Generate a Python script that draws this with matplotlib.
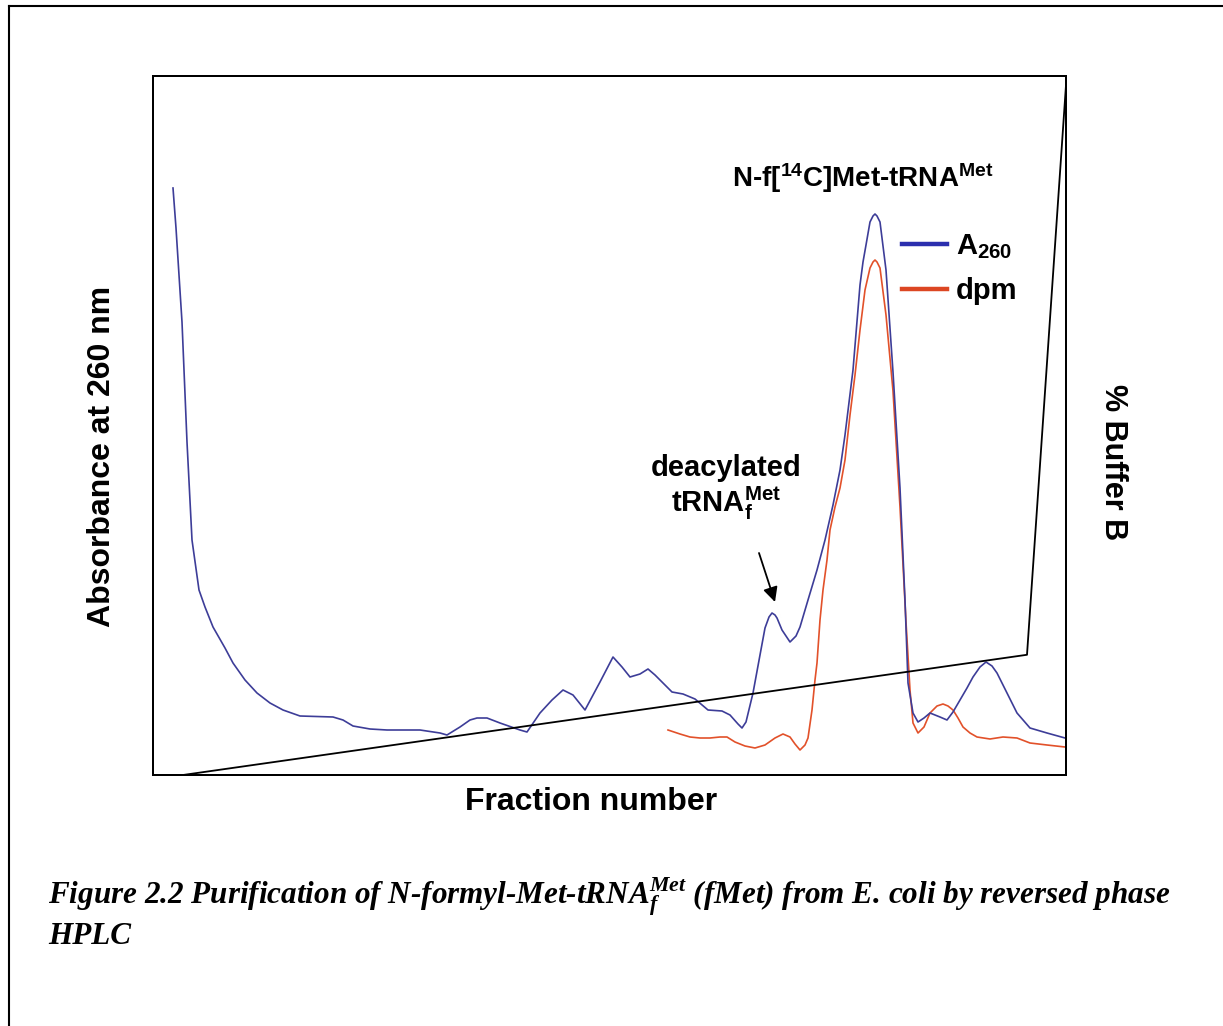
import matplotlib as mpl
import matplotlib.pyplot as plt
from matplotlib.lines import Line2D

mpl.rcParams.update(
    {
        "font.family": ["Liberation Sans", "DejaVu Sans"],
        "font.weight": "bold",
        "mathtext.default": "regular",
        "axes.linewidth": 1.4,
    }
)

# A260 trace (fraction number, absorbance)
a260_fraction = [
    2.0, 2.3, 2.9, 3.4, 3.9, 4.6, 5.2, 6.0, 7.2, 8.0, 9.2, 10.4, 11.7, 13.0, 14.7,
    18.0, 19.0, 20.0, 21.7, 23.4, 26.7, 28.7, 29.4, 30.7, 31.7, 32.4, 33.4, 34.7,
    36.7, 37.4, 38.7, 39.9, 41.0, 42.0, 43.2, 44.7, 46.0, 46.9, 47.7, 48.7, 49.5,
    50.2, 51.2, 51.9, 53.0, 54.2, 55.5, 56.9, 57.7, 58.5, 58.9, 59.3, 60.0, 60.7,
    61.2, 61.6, 61.9, 62.2, 62.4, 62.9, 63.7, 64.3, 64.7, 65.5, 66.4, 67.2, 68.0,
    68.7, 69.2, 70.0, 70.7, 71.0, 71.3, 71.7, 72.0, 72.2, 72.4, 72.7, 73.3, 74.0,
    74.7, 75.2, 75.5, 76.0, 76.5, 77.1, 77.7, 78.7, 79.4, 80.0, 80.7, 81.4, 82.0,
    82.7, 83.3, 83.9, 84.4, 85.4, 86.4, 87.7, 89.4, 91.2,
]
a260_value = [
    0.587, 0.547, 0.453, 0.333, 0.235, 0.185, 0.168, 0.148, 0.127, 0.112, 0.095,
    0.082, 0.072, 0.065, 0.059, 0.058, 0.055, 0.049, 0.046, 0.045, 0.045, 0.042,
    0.040, 0.048, 0.055, 0.057, 0.057, 0.052, 0.045, 0.043, 0.062, 0.075, 0.085,
    0.080, 0.065, 0.093, 0.118, 0.108, 0.098, 0.101, 0.106, 0.100, 0.090, 0.083,
    0.081, 0.076, 0.065, 0.064, 0.060, 0.051, 0.047, 0.053, 0.082, 0.120, 0.147,
    0.158, 0.162, 0.160, 0.157, 0.145, 0.133, 0.139, 0.148, 0.175, 0.205, 0.235,
    0.270, 0.305, 0.340, 0.405, 0.490, 0.513, 0.530, 0.553, 0.559, 0.561, 0.559,
    0.553, 0.505, 0.403, 0.287, 0.175, 0.092, 0.062, 0.053, 0.057, 0.062, 0.058,
    0.055, 0.063, 0.075, 0.087, 0.098, 0.108, 0.113, 0.109, 0.102, 0.082, 0.062,
    0.047, 0.042, 0.037,
]

# radioactivity trace (dpm), same axis scale
dpm_fraction = [
    51.5, 52.7, 53.7, 54.7, 55.7, 56.7, 57.4, 58.2, 59.2, 60.2, 61.2, 62.2, 63.0,
    63.7, 64.2, 64.7, 65.2, 65.5, 65.9, 66.2, 66.4, 66.7, 67.0, 67.4, 67.7, 68.2,
    68.7, 69.2, 69.7, 70.2, 70.7, 71.2, 71.7, 72.0, 72.2, 72.4, 72.7, 73.3, 74.0,
    74.7, 75.3, 75.7, 76.0, 76.5, 77.1, 77.7, 78.4, 79.0, 79.5, 80.0, 80.5, 81.0,
    81.7, 82.4, 83.7, 85.0, 86.4, 87.7, 89.4, 91.2,
]
dpm_value = [
    0.045, 0.041, 0.038, 0.037, 0.037, 0.038, 0.038, 0.033, 0.029, 0.027, 0.030,
    0.037, 0.041, 0.038, 0.031, 0.025, 0.030, 0.037, 0.065, 0.095, 0.112, 0.155,
    0.185, 0.215, 0.245, 0.268, 0.287, 0.315, 0.360, 0.400, 0.445, 0.485, 0.507,
    0.513, 0.515, 0.513, 0.507, 0.460, 0.384, 0.268, 0.153, 0.085, 0.052, 0.042,
    0.048, 0.062, 0.069, 0.071, 0.069, 0.065, 0.057, 0.048, 0.042, 0.038, 0.036,
    0.038, 0.037, 0.032, 0.030, 0.028,
]

# gradient programme (% buffer B)
gradient_fraction = [3.0, 87.4, 91.3]
gradient_buffer_b = [0.0, 17.2, 98.7]

BLUE = "#3d3d98"
RED = "#e2512a"

fig = plt.figure(figsize=(12.23, 10.26), dpi=100)
ax = fig.add_axes([153 / 1223, 1 - 775 / 1026, 913 / 1223, 699 / 1026])
ax.plot(a260_fraction, a260_value, color=BLUE, linewidth=1.2, zorder=3)
ax.plot(dpm_fraction, dpm_value, color=RED, linewidth=1.2, zorder=2)
ax.set_xlim(0, 91.3)
ax.set_ylim(0, 0.699)
ax.set_xticks([])
ax.set_yticks([])

ax2 = ax.twinx()
ax2.plot(gradient_fraction, gradient_buffer_b, color="black", linewidth=1.3)
ax2.set_ylim(0, 100)
ax2.set_yticks([])

ax.text(-0.056, 0.456, "Absorbance at 260 nm", transform=ax.transAxes,
        rotation=90, ha="center", va="center", fontsize=23)
ax.text(0.48, -0.039, "Fraction number", transform=ax.transAxes,
        ha="center", va="center", fontsize=23)
ax.text(1.052, 0.448, "% Buffer B", transform=ax.transAxes,
        rotation=270, ha="center", va="center", fontsize=22)

ax.text(71.0, 0.597, r"N-f[$^{14}$C]Met-tRNA$^{Met}$", ha="center", va="center",
        fontsize=20)
ax.text(57.3, 0.307, "deacylated", ha="center", va="center", fontsize=21)
ax.text(57.3, 0.272, r"tRNA$_{f}^{Met}$", ha="center", va="center", fontsize=21)
ax.annotate("", xy=(62.2, 0.173), xytext=(60.6, 0.222),
            arrowprops=dict(arrowstyle="-|>", color="black", lw=1.3,
                            mutation_scale=22, shrinkA=0, shrinkB=0))

handles = [Line2D([], [], color="#2b2fae", linewidth=3.2),
           Line2D([], [], color="#dc4622", linewidth=3.2)]
ax.legend(handles, [r"A$_{260}$", "dpm"], loc="upper left",
          bbox_to_anchor=(902 / 1223, 1 - 232 / 1026), bbox_transform=fig.transFigure,
          frameon=False, fontsize=21, handlelength=1.55, handletextpad=0.3,
          labelspacing=0.55, borderpad=0, borderaxespad=0)

# outer page frame
fig.add_artist(Line2D([9 / 1223, 9 / 1223], [0, 1 - 6 / 1026], color="black", lw=1.5))
fig.add_artist(Line2D([9 / 1223, 1], [1 - 6 / 1026, 1 - 6 / 1026], color="black", lw=1.5))

cap_font = dict(family=["Liberation Serif", "DejaVu Serif"], weight="bold", style="italic")
cap1 = fig.text(48 / 1223, 1 - 897 / 1026,
                r"Figure 2.2 Purification of N-formyl-Met-tRNA$_{f}^{Met}$ (fMet) from E. coli by reversed phase",
                ha="left", va="center", fontsize=20, **cap_font)
fig.canvas.draw()
cap_width = cap1.get_window_extent().width
cap1.set_fontsize(20 * 1124 / cap_width)
fig.text(48 / 1223, 1 - 936 / 1026, "HPLC", ha="left", va="center",
         fontsize=cap1.get_fontsize(), **cap_font)

fig.savefig("out.png", dpi=100)
